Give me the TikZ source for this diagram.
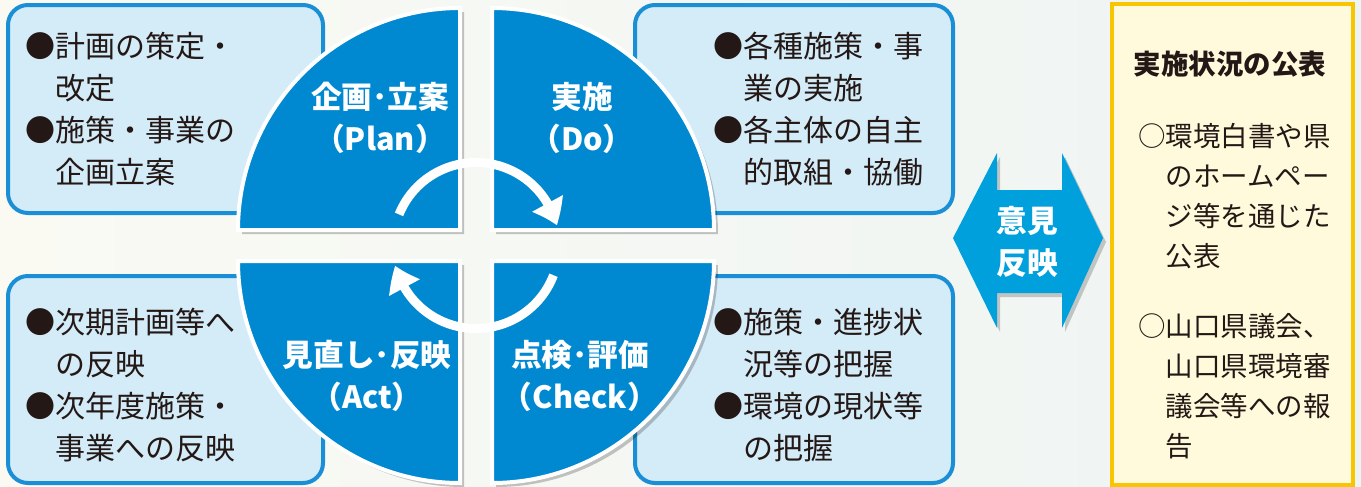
\documentclass[tikz,border=0pt]{standalone}
\usepackage{fontspec}
\setmainfont{Noto Sans CJK JP}
\usetikzlibrary{arrows.meta,bending}
\definecolor{quadblue}{HTML}{0089D1}
\definecolor{boxfill}{HTML}{D4EBF8}
\definecolor{boxline}{HTML}{1A8FD5}
\definecolor{arrowblue}{HTML}{00A0DD}
\definecolor{pubfill}{HTML}{FFFADB}
\definecolor{publine}{HTML}{F7C600}
\definecolor{txt}{HTML}{231815}
\definecolor{bgleft}{HTML}{FAFAF3}
\definecolor{bgright}{HTML}{EEF4F3}
\tikzset{
  infobox/.style={draw=boxline, fill=boxfill, line width=3pt, rounded corners=15pt},
  quad/.style={fill=quadblue, draw=white, line width=3pt},
  quadshadow/.style={fill=black, opacity=0.22},
  qlabel/.style={text=white, font=\bfseries\fontsize{23}{32}\selectfont, align=center, inner sep=0pt},
  boxtext/.style={text=txt, font=\fontsize{22.5}{31.5}\selectfont, align=left, inner sep=0pt, anchor=north west},
  cyclearrow/.style={draw=white, line width=6.75pt, -{Triangle[width=25pt,length=18pt,bend]}},
  dblarrow/.style={fill=arrowblue},
  pubbox/.style={fill=pubfill, draw=publine, line width=3pt},
  pubtitle/.style={text=txt, font=\bfseries\fontsize{20.6}{30}\selectfont, inner sep=0pt},
  pubtext/.style={text=txt, font=\fontsize{20.6}{30}\selectfont, align=left, inner sep=0pt, anchor=north west},
}
\begin{document}
\begin{tikzpicture}[x=0.75pt,y=0.75pt]
\useasboundingbox (0,0) rectangle (1361,-486);
\fill[left color=bgleft, right color=bgright] (0,0) rectangle (1361,-486);

% info boxes
\draw[infobox] (8,-5) rectangle (323,-213);
\draw[infobox] (635,-5) rectangle (953,-213);
\draw[infobox] (8,-276) rectangle (323,-483);
\draw[infobox] (635,-276) rectangle (953,-483);

% quadrant shadows
\begin{scope}[shift={(4,-4)}]
\fill[quadshadow] (460,-230) -- (238,-230) arc[start angle=180,end angle=90,radius=166.5pt] -- cycle;
\fill[quadshadow] (492,-230) -- (492,-8) arc[start angle=90,end angle=0,radius=166.5pt] -- cycle;
\fill[quadshadow] (460,-261) -- (460,-483) arc[start angle=270,end angle=180,radius=166.5pt] -- cycle;
\fill[quadshadow] (492,-261) -- (714,-261) arc[start angle=0,end angle=-90,radius=166.5pt] -- cycle;
\end{scope}
% quadrants
\draw[quad] (460,-230) -- (238,-230) arc[start angle=180,end angle=90,radius=166.5pt] -- cycle;
\draw[quad] (492,-230) -- (492,-8) arc[start angle=90,end angle=0,radius=166.5pt] -- cycle;
\draw[quad] (460,-261) -- (460,-483) arc[start angle=270,end angle=180,radius=166.5pt] -- cycle;
\draw[quad] (492,-261) -- (714,-261) arc[start angle=0,end angle=-90,radius=166.5pt] -- cycle;

% cycle arrows
\coordinate (cc) at (476,-245.5);
\draw[cyclearrow] ([shift={(158:83)}]cc) arc[start angle=158,end angle=14,radius=62.25pt];
\draw[cyclearrow] ([shift={(-21:83)}]cc) arc[start angle=-21,end angle=-166,radius=62.25pt];

% quadrant labels
\node[qlabel] (plan) at (380,-118) {企画･立案\\（Plan）};
\node[qlabel] (do) at (582,-118) {実施\\（Do）};
\node[qlabel] (act) at (367,-376) {見直し･反映\\（Act）};
\node[qlabel] (check) at (580,-376) {点検･評価\\（Check）};

% box texts
\node[boxtext] (tplan) at (25,-32) {●計画の策定・\\\hspace*{1em}改定\\●施策・事業の\\\hspace*{1em}企画立案};
\node[boxtext] (tdo) at (713,-32) {●各種施策・事\\\hspace*{1em}業の実施\\●各主体の自主\\\hspace*{1em}的取組・協働};
\node[boxtext] (tact) at (25,-308) {●次期計画等へ\\\hspace*{1em}の反映\\●次年度施策・\\\hspace*{1em}事業への反映};
\node[boxtext] (tcheck) at (713,-308) {●施策・進捗状\\\hspace*{1em}況等の把握\\●環境の現状等\\\hspace*{1em}の把握};

% double arrow
\fill[black, opacity=0.2] (956,-242) -- (1000,-157) -- (1000,-194) -- (1065,-194) -- (1065,-157) -- (1106,-242) -- (1065,-332) -- (1065,-297) -- (1000,-297) -- (1000,-332) -- cycle;
\fill[dblarrow] (953,-238) -- (997,-153) -- (997,-190) -- (1062,-190) -- (1062,-153) -- (1103,-238) -- (1062,-328) -- (1062,-293) -- (997,-293) -- (997,-328) -- cycle;
\node[qlabel] (iken) at (1027,-242) {意見\\反映};

% publication box
\draw[pubbox] (1112,-4) rectangle (1353,-485);
\node[pubtitle] (ptitle) at (1230,-64) {実施状況の公表};
\node[pubtext] (p1) at (1138,-123) {○環境白書や県\\\hspace*{1em}のホームペー\\\hspace*{1em}ジ等を通じた\\\hspace*{1em}公表};
\node[pubtext] (p2) at (1138,-313) {○山口県議会、\\\hspace*{1em}山口県環境審\\\hspace*{1em}議会等への報\\\hspace*{1em}告};
\end{tikzpicture}
\end{document}
